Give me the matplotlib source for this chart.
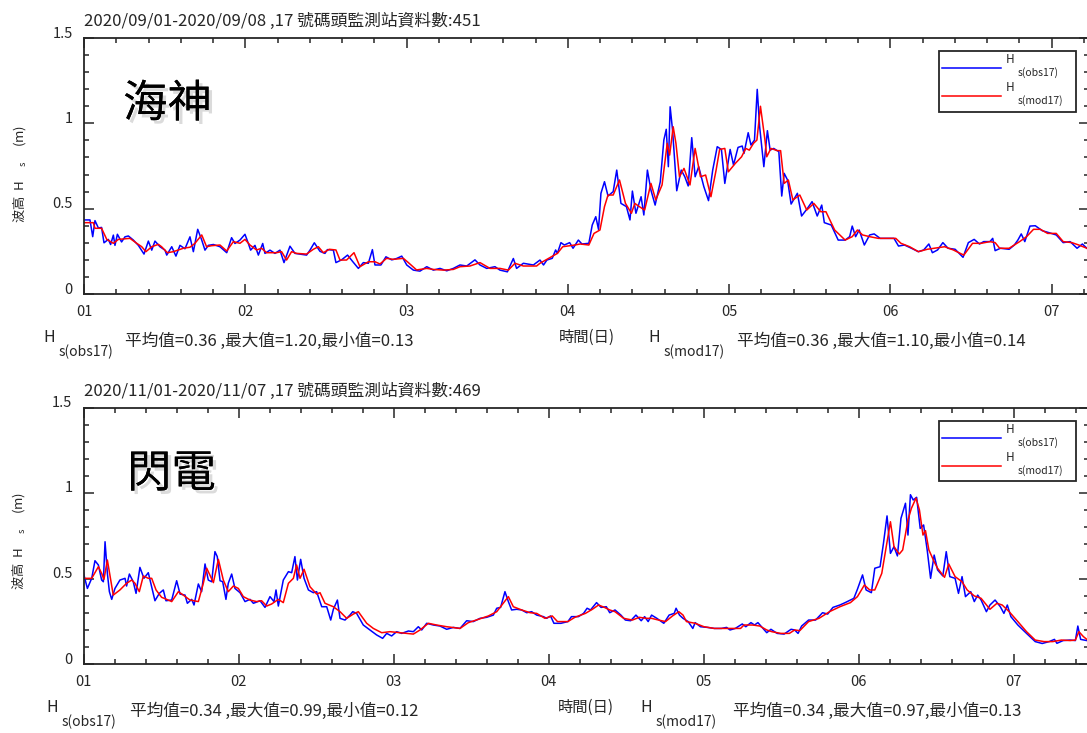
#!/usr/bin/env python3

import matplotlib
matplotlib.use('Agg')
import matplotlib.pyplot as plt
import matplotlib.patheffects as pe
import matplotlib.transforms as mtrans
from matplotlib.ticker import MultipleLocator, FuncFormatter

# Hs (m), time given as day of month
sep_obs_day = [
    1.000, 1.037, 1.054, 1.068, 1.089, 1.109, 1.124, 1.151, 1.165, 1.182,
    1.192, 1.207, 1.233, 1.254, 1.275, 1.306, 1.337, 1.372, 1.399, 1.420,
    1.440, 1.471, 1.502, 1.513, 1.544, 1.570, 1.595, 1.626, 1.657, 1.678,
    1.705, 1.730, 1.750, 1.771, 1.802, 1.843, 1.885, 1.915, 1.936, 1.967,
    1.998, 2.019, 2.033, 2.060, 2.081, 2.108, 2.122, 2.153, 2.184, 2.215,
    2.240, 2.277, 2.308, 2.380, 2.401, 2.428, 2.463, 2.494, 2.509, 2.546,
    2.562, 2.597, 2.634, 2.666, 2.701, 2.732, 2.763, 2.788, 2.804, 2.841,
    2.872, 2.908, 2.938, 2.970, 3.001, 3.042, 3.083, 3.125, 3.166, 3.207,
    3.249, 3.290, 3.331, 3.373, 3.424, 3.455, 3.497, 3.548, 3.579, 3.625,
    3.662, 3.682, 3.724, 3.786,
    3.827, 3.849, 3.870, 3.903, 3.924, 3.935, 3.957, 3.978, 4.011, 4.032,
    4.065, 4.087, 4.130, 4.151, 4.173, 4.190, 4.205, 4.227, 4.249, 4.281,
    4.303, 4.329, 4.363, 4.385, 4.400, 4.422, 4.454, 4.471, 4.493, 4.515,
    4.541, 4.573, 4.595, 4.610, 4.623, 4.634, 4.649, 4.675, 4.703, 4.725,
    4.746, 4.768, 4.789, 4.811, 4.843, 4.872, 4.898, 4.926, 4.952, 4.973,
    5.006, 5.027, 5.055, 5.081, 5.092, 5.118, 5.135, 5.157, 5.174, 5.189,
    5.215, 5.237, 5.254, 5.276, 5.308, 5.326, 5.341, 5.362, 5.384, 5.423,
    5.449, 5.481, 5.514, 5.546, 5.574, 5.590, 5.633, 5.676, 5.719, 5.747,
    5.763, 5.784, 5.806, 5.838, 5.871, 5.899, 5.936, 5.990, 6.022, 6.050,
    6.087, 6.130, 6.173, 6.206, 6.238, 6.260, 6.292, 6.325, 6.357, 6.401,
    6.450, 6.483, 6.519, 6.552, 6.578, 6.617, 6.634, 6.649, 6.682, 6.736,
    6.768, 6.790, 6.811, 6.833, 6.865, 6.898, 6.941, 6.984, 7.028, 7.071,
    7.114, 7.157, 7.190, 7.218,
]
sep_obs_hs = [
    0.434, 0.434, 0.336, 0.430, 0.387, 0.390, 0.300, 0.320, 0.290, 0.345,
    0.285, 0.350, 0.305, 0.335, 0.340, 0.316, 0.285, 0.234, 0.310, 0.257,
    0.310, 0.277, 0.257, 0.228, 0.277, 0.222, 0.285, 0.265, 0.335, 0.248,
    0.379, 0.316, 0.257, 0.285, 0.290, 0.277, 0.242, 0.330, 0.296, 0.316,
    0.350, 0.296, 0.257, 0.285, 0.228, 0.296, 0.238, 0.257, 0.238, 0.257,
    0.184, 0.280, 0.238, 0.228, 0.257, 0.300, 0.250, 0.238, 0.260, 0.257,
    0.184, 0.200, 0.228, 0.190, 0.150, 0.184, 0.180, 0.260, 0.170, 0.170,
    0.218, 0.200, 0.208, 0.222, 0.170, 0.140, 0.134, 0.160, 0.140, 0.150,
    0.136, 0.150, 0.170, 0.164, 0.200, 0.170, 0.150, 0.160, 0.140, 0.130,
    0.208, 0.150, 0.180, 0.170,
    0.199, 0.170, 0.199, 0.209, 0.258, 0.238, 0.301, 0.287, 0.301, 0.268,
    0.316, 0.293, 0.297, 0.404, 0.453, 0.379, 0.590, 0.658, 0.574, 0.600,
    0.726, 0.531, 0.512, 0.434, 0.603, 0.473, 0.570, 0.463, 0.726, 0.609,
    0.521, 0.658, 0.902, 0.965, 0.746, 1.097, 0.961, 0.605, 0.726, 0.687,
    0.633, 0.916, 0.687, 0.746, 0.629, 0.547, 0.726, 0.863, 0.847, 0.648,
    0.847, 0.756, 0.859, 0.867, 0.824, 0.945, 0.873, 0.902, 1.199, 0.980,
    0.746, 0.957, 0.843, 0.853, 0.834, 0.574, 0.707, 0.668, 0.527, 0.590,
    0.457, 0.496, 0.541, 0.457, 0.521, 0.418, 0.404, 0.316, 0.316, 0.336,
    0.398, 0.336, 0.375, 0.287, 0.346, 0.352, 0.326, 0.326, 0.326, 0.281,
    0.287, 0.268, 0.248, 0.258, 0.293, 0.242, 0.258, 0.301, 0.268, 0.262,
    0.215, 0.301, 0.320, 0.293, 0.307, 0.307, 0.326, 0.254, 0.268, 0.262,
    0.287, 0.316, 0.352, 0.307, 0.398, 0.400, 0.371, 0.359, 0.346, 0.301,
    0.307, 0.268, 0.293, 0.268,
]
sep_mod_day = [
    1.000, 1.058, 1.068, 1.109, 1.141, 1.182, 1.213, 1.285, 1.327, 1.358,
    1.384, 1.420, 1.461, 1.481, 1.517, 1.554, 1.585, 1.616, 1.657, 1.688,
    1.730, 1.760, 1.791, 1.843, 1.885, 1.926, 1.967, 1.998, 2.029, 2.070,
    2.101, 2.132, 2.194, 2.225, 2.256, 2.287, 2.318, 2.380, 2.422, 2.453,
    2.484, 2.521, 2.562, 2.587, 2.628, 2.674, 2.711, 2.763, 2.804, 2.835,
    2.876, 2.918, 2.980, 3.011, 3.062, 3.125, 3.166, 3.228, 3.290, 3.331,
    3.393, 3.455, 3.517, 3.579, 3.631, 3.672, 3.724, 3.806,
    3.827, 3.892, 3.935, 3.968, 4.043, 4.076, 4.130, 4.162, 4.199, 4.227,
    4.249, 4.281, 4.320, 4.357, 4.394, 4.415, 4.443, 4.476, 4.515, 4.545,
    4.584, 4.616, 4.631, 4.653, 4.670, 4.692, 4.720, 4.757, 4.789, 4.822,
    4.854, 4.887, 4.919, 4.941, 4.973, 4.995, 5.038, 5.077, 5.103, 5.125,
    5.151, 5.172, 5.194, 5.222, 5.233, 5.259, 5.298, 5.319, 5.341, 5.367,
    5.395, 5.438, 5.481, 5.525, 5.568, 5.600, 5.654, 5.719, 5.763, 5.795,
    5.827, 5.871, 5.925, 5.990, 6.033, 6.065, 6.119, 6.173, 6.228, 6.271,
    6.336, 6.390, 6.411, 6.455, 6.509, 6.563, 6.617, 6.649, 6.677, 6.736,
    6.801, 6.844, 6.887, 6.930, 6.974, 7.028, 7.071, 7.125, 7.168, 7.218,
]
sep_mod_hs = [
    0.418, 0.418, 0.385, 0.385, 0.320, 0.297, 0.320, 0.326, 0.297, 0.277,
    0.248, 0.277, 0.291, 0.277, 0.242, 0.248, 0.258, 0.268, 0.274, 0.297,
    0.346, 0.277, 0.283, 0.287, 0.252, 0.307, 0.297, 0.320, 0.287, 0.258,
    0.268, 0.242, 0.242, 0.248, 0.199, 0.248, 0.238, 0.234, 0.262, 0.277,
    0.242, 0.262, 0.258, 0.199, 0.199, 0.242, 0.160, 0.189, 0.189, 0.176,
    0.209, 0.203, 0.209, 0.184, 0.141, 0.150, 0.144, 0.140, 0.144, 0.160,
    0.164, 0.184, 0.150, 0.150, 0.140, 0.180, 0.164, 0.164,
    0.180, 0.215, 0.238, 0.277, 0.287, 0.293, 0.287, 0.355, 0.375, 0.512,
    0.580, 0.580, 0.668, 0.531, 0.473, 0.531, 0.512, 0.492, 0.648, 0.551,
    0.639, 0.883, 0.814, 0.980, 0.883, 0.687, 0.736, 0.639, 0.853, 0.687,
    0.697, 0.570, 0.726, 0.847, 0.853, 0.716, 0.765, 0.804, 0.853, 0.843,
    0.883, 0.902, 1.100, 0.902, 0.804, 0.853, 0.840, 0.840, 0.648, 0.668,
    0.551, 0.580, 0.492, 0.531, 0.482, 0.482, 0.375, 0.316, 0.336, 0.375,
    0.346, 0.336, 0.326, 0.326, 0.326, 0.297, 0.277, 0.248, 0.262, 0.268,
    0.277, 0.258, 0.248, 0.228, 0.297, 0.297, 0.307, 0.301, 0.268, 0.268,
    0.307, 0.336, 0.379, 0.379, 0.355, 0.355, 0.307, 0.301, 0.287, 0.268,
]

nov_obs_day = [
    0.999, 1.025, 1.053, 1.074, 1.096, 1.117, 1.128, 1.139, 1.154, 1.167,
    1.182, 1.203, 1.235, 1.268, 1.278, 1.296, 1.321, 1.339, 1.364, 1.390,
    1.418, 1.433, 1.461, 1.489, 1.515, 1.532, 1.569, 1.601, 1.623, 1.655,
    1.670, 1.698, 1.713, 1.741, 1.762, 1.784, 1.805, 1.827, 1.848, 1.863,
    1.881, 1.898, 1.919, 1.934, 1.956, 1.977, 2.010, 2.042, 2.074, 2.096,
    2.139, 2.171, 2.203, 2.229, 2.242, 2.257, 2.289, 2.322, 2.343, 2.364,
    2.380, 2.401, 2.423, 2.451, 2.483, 2.504, 2.537, 2.569, 2.595, 2.612,
    2.638, 2.655, 2.687, 2.719, 2.737, 2.762, 2.805, 2.848, 2.891, 2.930,
    2.956, 2.988, 3.020, 3.053, 3.096, 3.128, 3.160, 3.182, 3.214, 3.257,
    3.300, 3.343, 3.386, 3.429, 3.472, 3.515, 3.558, 3.601, 3.644, 3.666,
    3.691, 3.719, 3.741, 3.762, 3.795, 3.827, 3.859, 3.891, 3.924, 3.967,
    3.988,
    4.013, 4.035, 4.080, 4.125, 4.148, 4.193, 4.226, 4.249, 4.271, 4.310,
    4.339, 4.373, 4.395, 4.429, 4.467, 4.496, 4.530, 4.564, 4.598, 4.620,
    4.643, 4.665, 4.699, 4.744, 4.778, 4.811, 4.823, 4.845, 4.868, 4.901,
    4.931, 4.946, 4.980, 5.025, 5.070, 5.115, 5.149, 5.171, 5.205, 5.250,
    5.273, 5.306, 5.329, 5.351, 5.374, 5.408, 5.435, 5.475, 5.520, 5.565,
    5.588, 5.610, 5.633, 5.678, 5.723, 5.768, 5.801, 5.835, 5.880, 5.914,
    5.948, 5.970, 5.993, 6.026, 6.049, 6.083, 6.105, 6.139, 6.161, 6.184,
    6.206, 6.229, 6.251, 6.274, 6.303, 6.319, 6.335, 6.353, 6.375, 6.398,
    6.420, 6.443, 6.465, 6.488, 6.510, 6.544, 6.566, 6.589, 6.623, 6.645,
    6.668, 6.690, 6.724, 6.747, 6.769, 6.791, 6.825, 6.848, 6.881, 6.915,
    6.938, 6.960, 6.983, 7.028, 7.084, 7.140, 7.185, 7.230, 7.264, 7.280,
    7.320, 7.365, 7.399, 7.415, 7.433, 7.473,
]
nov_obs_hs = [
    0.534, 0.442, 0.501, 0.604, 0.579, 0.491, 0.481, 0.715, 0.530, 0.423,
    0.378, 0.442, 0.491, 0.501, 0.456, 0.526, 0.481, 0.413, 0.565, 0.501,
    0.534, 0.476, 0.370, 0.413, 0.433, 0.370, 0.374, 0.487, 0.409, 0.403,
    0.355, 0.378, 0.345, 0.468, 0.423, 0.585, 0.491, 0.481, 0.657, 0.628,
    0.487, 0.481, 0.378, 0.472, 0.526, 0.442, 0.417, 0.365, 0.378, 0.355,
    0.370, 0.331, 0.394, 0.365, 0.433, 0.339, 0.491, 0.540, 0.534, 0.628,
    0.491, 0.612, 0.501, 0.433, 0.417, 0.423, 0.335, 0.335, 0.257, 0.320,
    0.374, 0.267, 0.257, 0.286, 0.306, 0.296, 0.228, 0.199, 0.170, 0.150,
    0.179, 0.164, 0.189, 0.179, 0.193, 0.189, 0.218, 0.199, 0.238, 0.228,
    0.222, 0.203, 0.214, 0.208, 0.253, 0.248, 0.267, 0.273, 0.286, 0.326,
    0.331, 0.423, 0.365, 0.316, 0.320, 0.316, 0.300, 0.306, 0.286, 0.277,
    0.267,
    0.281, 0.238, 0.238, 0.248, 0.277, 0.277, 0.296, 0.326, 0.316, 0.359,
    0.331, 0.335, 0.300, 0.316, 0.286, 0.257, 0.253, 0.286, 0.253, 0.277,
    0.248, 0.286, 0.267, 0.238, 0.286, 0.296, 0.326, 0.286, 0.267, 0.248,
    0.208, 0.242, 0.218, 0.214, 0.208, 0.208, 0.214, 0.199, 0.208, 0.234,
    0.218, 0.242, 0.228, 0.242, 0.218, 0.183, 0.203, 0.179, 0.175, 0.203,
    0.199, 0.179, 0.222, 0.257, 0.257, 0.300, 0.292, 0.331, 0.345, 0.359,
    0.374, 0.384, 0.437, 0.521, 0.433, 0.417, 0.560, 0.569, 0.706, 0.866,
    0.647, 0.686, 0.632, 0.852, 0.940, 0.754, 0.990, 0.959, 0.975, 0.793,
    0.813, 0.667, 0.501, 0.637, 0.550, 0.515, 0.657, 0.511, 0.501, 0.413,
    0.511, 0.394, 0.423, 0.365, 0.403, 0.374, 0.306, 0.345, 0.374, 0.335,
    0.296, 0.345, 0.277, 0.228, 0.179, 0.131, 0.120, 0.131, 0.144, 0.121,
    0.137, 0.140, 0.137, 0.222, 0.144, 0.137,
]
nov_mod_day = [
    0.999, 1.053, 1.096, 1.117, 1.132, 1.154, 1.192, 1.235, 1.278, 1.311,
    1.332, 1.360, 1.386, 1.418, 1.440, 1.468, 1.504, 1.547, 1.569, 1.612,
    1.644, 1.687, 1.741, 1.773, 1.795, 1.838, 1.870, 1.902, 1.934, 1.967,
    1.999, 2.031, 2.074, 2.117, 2.149, 2.182, 2.214, 2.257, 2.289, 2.322,
    2.354, 2.375, 2.397, 2.423, 2.461, 2.504, 2.526, 2.558, 2.612, 2.655,
    2.698, 2.741, 2.773, 2.827, 2.870, 2.924, 2.977, 3.042, 3.128, 3.171,
    3.225, 3.278, 3.343, 3.429, 3.483, 3.547, 3.612, 3.666, 3.704, 3.741,
    3.773, 3.827, 3.881, 3.924, 3.977,
    4.024, 4.058, 4.125, 4.170, 4.238, 4.283, 4.323, 4.361, 4.395, 4.429,
    4.485, 4.541, 4.586, 4.631, 4.665, 4.710, 4.755, 4.800, 4.841, 4.868,
    4.890, 4.946, 5.003, 5.070, 5.160, 5.239, 5.261, 5.318, 5.363, 5.408,
    5.441, 5.498, 5.554, 5.588, 5.621, 5.678, 5.745, 5.813, 5.880, 5.948,
    5.993, 6.038, 6.072, 6.105, 6.150, 6.206, 6.229, 6.263, 6.285, 6.319,
    6.341, 6.371, 6.393, 6.416, 6.432, 6.454, 6.488, 6.510, 6.555, 6.582,
    6.623, 6.668, 6.701, 6.747, 6.791, 6.848, 6.893, 6.927, 6.972, 7.028,
    7.084, 7.140, 7.197, 7.253, 7.309, 7.365, 7.399, 7.422, 7.451, 7.473,
]
nov_mod_hs = [
    0.501, 0.501, 0.569, 0.530, 0.495, 0.608, 0.403, 0.433, 0.472, 0.491,
    0.472, 0.423, 0.515, 0.501, 0.501, 0.433, 0.390, 0.374, 0.365, 0.423,
    0.403, 0.374, 0.365, 0.472, 0.560, 0.476, 0.612, 0.491, 0.423, 0.456,
    0.442, 0.394, 0.374, 0.365, 0.370, 0.339, 0.351, 0.378, 0.359, 0.472,
    0.501, 0.579, 0.501, 0.554, 0.452, 0.409, 0.417, 0.355, 0.335, 0.306,
    0.267, 0.292, 0.306, 0.238, 0.208, 0.183, 0.189, 0.183, 0.175, 0.199,
    0.238, 0.228, 0.218, 0.208, 0.242, 0.261, 0.281, 0.306, 0.351, 0.394,
    0.335, 0.316, 0.300, 0.296, 0.267,
    0.281, 0.248, 0.248, 0.273, 0.296, 0.320, 0.345, 0.331, 0.316, 0.306,
    0.267, 0.257, 0.273, 0.267, 0.267, 0.257, 0.248, 0.281, 0.306, 0.286,
    0.248, 0.238, 0.218, 0.208, 0.208, 0.208, 0.228, 0.228, 0.222, 0.199,
    0.189, 0.179, 0.179, 0.199, 0.195, 0.248, 0.267, 0.306, 0.335, 0.359,
    0.394, 0.462, 0.433, 0.433, 0.530, 0.832, 0.686, 0.643, 0.667, 0.842,
    0.910, 0.970, 0.901, 0.754, 0.780, 0.667, 0.598, 0.560, 0.507, 0.585,
    0.511, 0.481, 0.433, 0.398, 0.384, 0.320, 0.355, 0.345, 0.306, 0.248,
    0.189, 0.140, 0.131, 0.131, 0.140, 0.137, 0.140, 0.189, 0.160, 0.144,
]

titles = [
    '2020/09/01-2020/09/08 ,17 號碼頭監測站資料數:451',
    '2020/11/01-2020/11/07 ,17 號碼頭監測站資料數:469',
]
storms = ['海神', '閃電']
obs_stats = ['平均值=0.36 ,最大值=1.20,最小值=0.13', '平均值=0.34 ,最大值=0.99,最小值=0.12']
mod_stats = ['平均值=0.36 ,最大值=1.10,最小值=0.14', '平均值=0.34 ,最大值=0.97,最小值=0.13']
series_subs = ['s(obs17)', 's(mod17)']

W, H = 1087, 733
TXT = '#262626'

plt.rcParams['font.family'] = ['Noto Sans CJK TC', 'DejaVu Sans']
plt.rcParams['axes.unicode_minus'] = False

fig = plt.figure(figsize=(W / 100, H / 100), dpi=100)


def px_rect(left, top, right, bottom):
    return [left / W, 1 - bottom / H, (right - left) / W, (bottom - top) / H]


def put(x, y, s, **kw):
    kw.setdefault('color', TXT)
    kw.setdefault('va', 'center')
    return fig.text(x / W, 1 - y / H, s, **kw)


# pixel layout of the two panels
layout = [
    dict(rect=(84, 38, 1089, 294), xmax=7.231, dy=0, xs=(43, 125, 648, 737), sx=123),
    dict(rect=(83.5, 407.5, 1089, 664), xmax=7.487, dy=370, xs=(46, 130, 640, 733), sx=127),
]
series = [
    (sep_obs_day, sep_obs_hs, sep_mod_day, sep_mod_hs),
    (nov_obs_day, nov_obs_hs, nov_mod_day, nov_mod_hs),
]

ylab_off = mtrans.ScaledTranslation(0, 6 / 100, fig.dpi_scale_trans)

for i, lay in enumerate(layout):
    ot, oh, mt, mh = series[i]
    ax = fig.add_axes(px_rect(*lay['rect']))
    l_obs, = ax.plot(ot, oh, color='#0000ff', lw=1.1)
    l_mod, = ax.plot(mt, mh, color='#ff0000', lw=1.1)

    ax.set_xlim(1, lay['xmax'])
    ax.set_ylim(0, 1.5)
    ax.xaxis.set_major_locator(MultipleLocator(1))
    ax.xaxis.set_minor_locator(MultipleLocator(0.2))
    ax.yaxis.set_major_locator(MultipleLocator(0.5))
    ax.yaxis.set_minor_locator(MultipleLocator(0.1))
    ax.xaxis.set_major_formatter(FuncFormatter(lambda v, p: '%02d' % int(round(v))))
    ax.yaxis.set_major_formatter(FuncFormatter(lambda v, p: '%g' % v))
    ax.tick_params(which='both', direction='in', top=True, right=True,
                   color=TXT, labelcolor=TXT, width=1.1)
    ax.tick_params(which='major', length=7, labelsize=10.5, pad=8)
    ax.tick_params(which='minor', length=3.5)
    for sp in ax.spines.values():
        sp.set_linewidth(1.3)
        sp.set_color(TXT)
    for tick in ax.yaxis.get_major_ticks():
        tick.label1.set_transform(tick.label1.get_transform() + ylab_off)

    ax.set_xlabel('時間(日)', fontsize=11, color=TXT, labelpad=7)
    ax.set_ylabel('波高  H     $_\\mathregular{s}$     (m)', fontsize=9.5, color=TXT, va='center')
    ax.yaxis.set_label_coords(-0.065, 0.47 if i == 0 else 0.48)

    leg = ax.legend([l_obs, l_mod], ['H\n', 'H\n'], loc='upper left',
                    bbox_to_anchor=(0.851, 0.949, 0.1365, 0), mode='expand',
                    fontsize=8.5, handlelength=5.0, handletextpad=0.4,
                    borderpad=0.2, labelspacing=0.0, borderaxespad=0,
                    fancybox=False, framealpha=1, edgecolor=TXT)
    leg.get_frame().set_linewidth(1.3)
    for txt, sub in zip(leg.get_texts(), series_subs):
        txt.set_color(TXT)
        ax.annotate(sub, xy=(1, 0.3), xycoords=txt, xytext=(3, 0),
                    textcoords='offset points', fontsize=7.5, color=TXT,
                    va='center', zorder=6)

    dy = lay['dy']
    xh_obs, xs_obs, xh_mod, xs_mod = lay['xs']
    put(84, 21 + dy, titles[i], fontsize=12.1)
    put(lay['sx'], 104 + dy, storms[i], fontsize=32, color='black',
        path_effects=[pe.withSimplePatchShadow(offset=(2.5, -2.5), shadow_rgbFace='0.6', alpha=0.35),
                      pe.Normal()])
    put(xh_obs, 338 + dy, 'H', fontsize=11.5)
    put(xh_obs + 16, 352 + dy, series_subs[0], fontsize=10)
    put(xs_obs, 341 + dy, obs_stats[i], fontsize=12)
    put(xh_mod, 338 + dy, 'H', fontsize=11.5)
    put(xh_mod + 16, 352 + dy, series_subs[1], fontsize=10)
    put(xs_mod, 341 + dy, mod_stats[i], fontsize=12)

fig.savefig('out.png', dpi=100, facecolor='white')
